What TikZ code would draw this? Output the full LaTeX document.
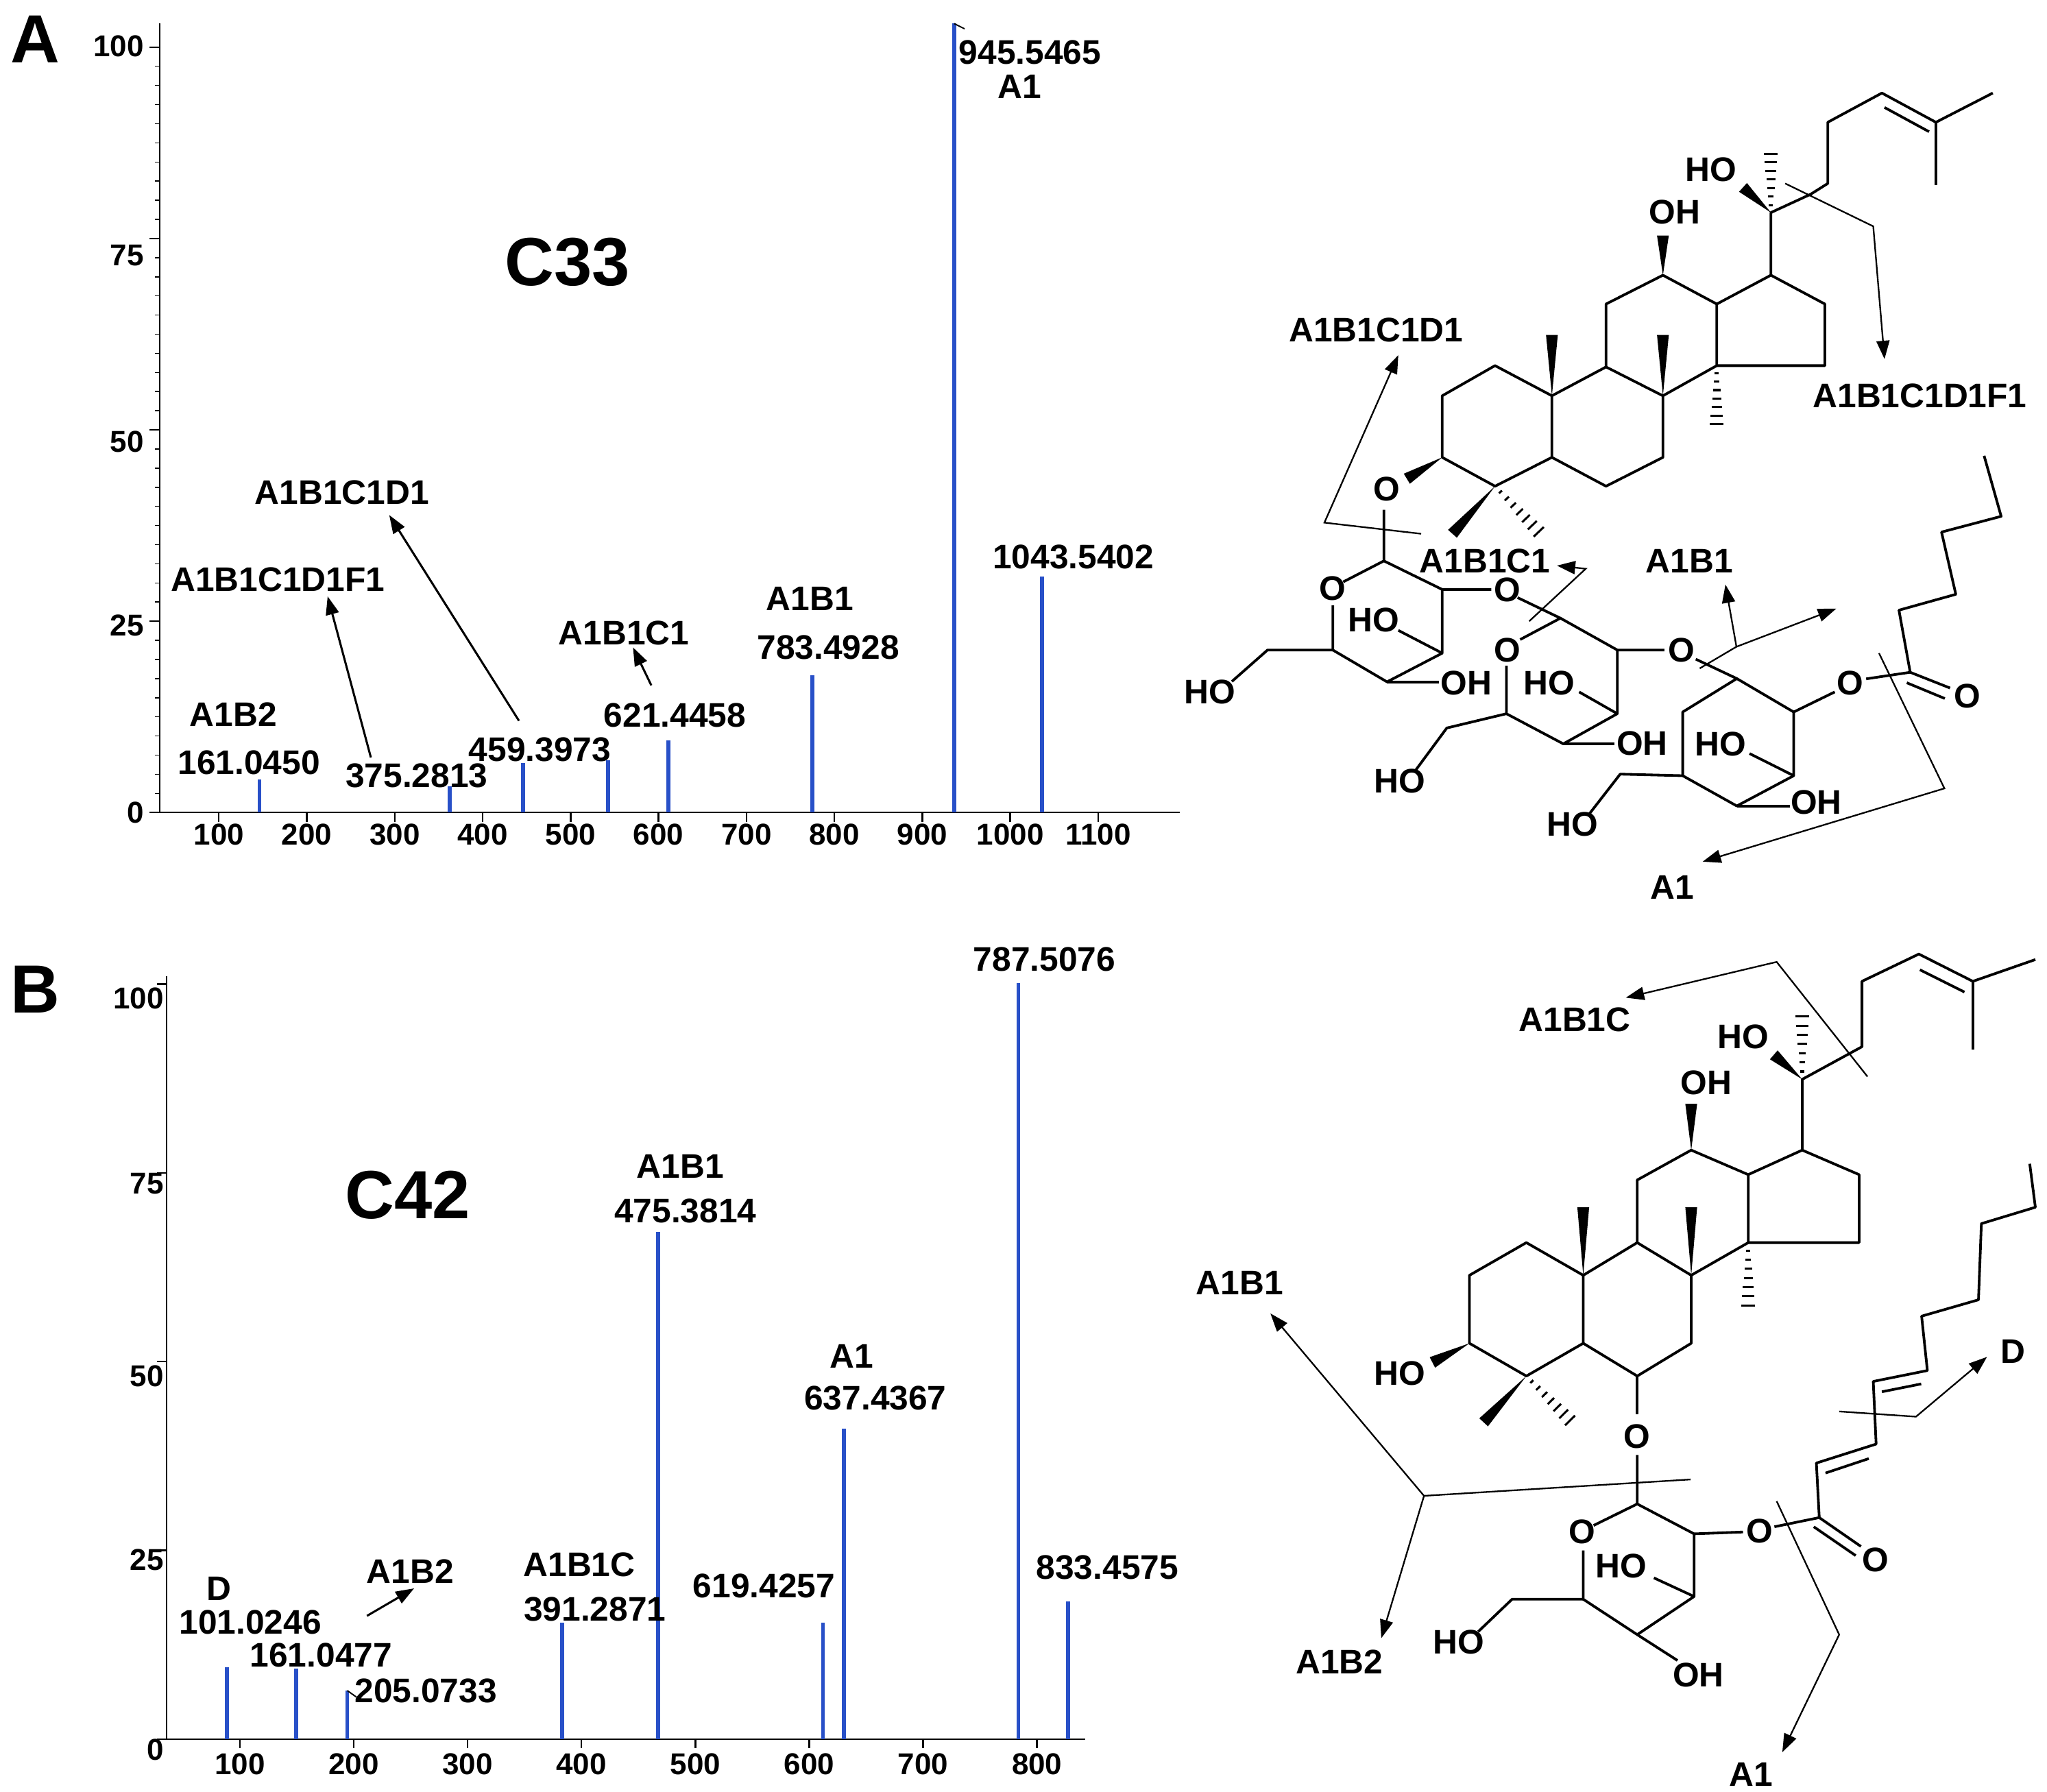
\documentclass[tikz,border=0pt]{standalone}
\usepackage{fontspec}
\setmainfont{Liberation Sans}
\usetikzlibrary{calc,arrows.meta}
\definecolor{pk}{RGB}{40,80,200}
\newcommand\wdg[2]{\fill #1 -- ($#2!4.5pt!90:#1$) -- ($#2!4.5pt!-90:#1$) -- cycle;}
\newcommand\hsh[2]{\foreach \t in {0.12,0.26,...,1.0}{\pgfmathsetmacro\hl{1+4.5*\t}\coordinate (hp) at ($#1!\t!#2$);\draw[line width=1.6pt] ($(hp)!\hl pt!90:#1$) -- ($(hp)!\hl pt!-90:#1$);}}
\begin{document}
\begin{tikzpicture}[x=1pt,y=-1pt,
  lbl/.style={font=\fontsize{26}{28}\selectfont\bfseries,inner sep=0pt},
  atom/.style={font=\fontsize{26}{28}\selectfont\bfseries,inner sep=0pt},
  tck/.style={font=\fontsize{23}{25}\selectfont\bfseries,inner sep=0pt},
  big/.style={font=\fontsize{52}{54}\selectfont\bfseries,inner sep=0pt},
  panel/.style={font=\fontsize{52}{54}\selectfont\bfseries,inner sep=0pt},
  peak/.style={draw=pk,line width=3pt},
  axis/.style={line width=1.3pt},
  bond/.style={line width=2pt,line join=round},
  frag/.style={line width=1.2pt},
  farr/.style={line width=1.2pt,-{Triangle[length=14pt,width=10pt]}},
  parr/.style={line width=1.6pt,-{Triangle[length=14pt,width=10pt]}}]
\useasboundingbox (0,0) rectangle (1562,1367);
% ================= Panel A spectrum =================
\node[panel] (pA) at (27,30) {A};
\draw[axis] (122,18) -- (122,620) -- (900,620);
\foreach \v/\yy in {100/35,75/195,50/337,25/477,0/620}{\node[tck,anchor=east] at (110,\yy) {\v};}
\foreach \i in {0,...,40}{\draw[line width=0.8pt] (122,{620-\i*14.6}) -- (118,{620-\i*14.6});}
\foreach \i in {0,...,4}{\draw[axis] (122,{620-\i*146}) -- (114,{620-\i*146});}
\foreach \m [count=\k from 0] in {100,200,...,1100}{\node[tck] at ({167+\k*67.1},637) {\m}; \draw[axis] ({167+\k*67.1},620) -- ({167+\k*67.1},627);}
\foreach \px/\py in {198/595,343/600,399/582,464/580,510/565,620/515,728/18,795/440}{\draw[peak] (\px,620) -- (\px,\py);}
\draw[line width=1pt] (728,18) -- (736,22);
\node[big] (c33) at (433,200) {C33};
\node[lbl] (t1) at (786,40) {945.5465};
\node[lbl] (t2) at (778,66) {A1};
\node[lbl] (t3) at (819,425) {1043.5402};
\node[lbl] (t4) at (618,457) {A1B1};
\node[lbl] (t5) at (632,494) {783.4928};
\node[lbl] (t6) at (476,483) {A1B1C1};
\node[lbl] (t7) at (515,546) {621.4458};
\node[lbl] (t8) at (412,572) {459.3973};
\node[lbl] (t9) at (318,592) {375.2813};
\node[lbl] (t10) at (178,545) {A1B2};
\node[lbl] (t11) at (190,582) {161.0450};
\node[lbl] (t12) at (212,442) {A1B1C1D1F1};
\node[lbl] (t13) at (261,376) {A1B1C1D1};
\draw[parr] (497,523) -- (483,494);
\draw[parr] (283,578) -- (250,455);
\draw[parr] (396,550) -- (297,393);
% ================= Panel B spectrum =================
\node[panel] (pB) at (27,755) {B};
\draw[axis] (127,745) -- (127,1327) -- (828,1327);
\foreach \v/\yy in {100/762,75/903,50/1050,25/1190,0/1335}{\node[tck,anchor=east] at (125,\yy) {\v};}
\foreach \i in {0,...,4}{\draw[axis] (127,{1327-\i*144}) -- (120,{1327-\i*144});}
\foreach \m [count=\k from 0] in {100,200,...,800}{\node[tck] at ({183+\k*86.9},1346) {\m}; \draw[axis] ({183+\k*86.9},1327) -- ({183+\k*86.9},1334);}
\foreach \px/\py in {173/1272,226/1273,265/1290,429/1238,502/940,628/1238,644/1090,777/750,815/1222}{\draw[peak] (\px,1327) -- (\px,\py);}
\draw[line width=1pt] (265,1290) -- (272,1295);
\node[big] (c42) at (311,912) {C42};
\node[lbl] (u1) at (797,732) {787.5076};
\node[lbl] (u2) at (519,890) {A1B1};
\node[lbl] (u3) at (523,924) {475.3814};
\node[lbl] (u4) at (650,1035) {A1};
\node[lbl] (u5) at (668,1067) {637.4367};
\node[lbl] (u6) at (442,1194) {A1B1C};
\node[lbl] (u7) at (454,1228) {391.2871};
\node[lbl] (u8) at (583,1210) {619.4257};
\node[lbl] (u9) at (845,1196) {833.4575};
\node[lbl] (u10) at (167,1212) {D};
\node[lbl] (u11) at (191,1238) {101.0246};
\node[lbl] (u12) at (313,1199) {A1B2};
\node[lbl] (u13) at (245,1263) {161.0477};
\node[lbl] (u14) at (325,1290) {205.0733};
\draw[parr] (280,1233) -- (316,1212);
% ================= Structure A =================
\begin{scope}[bond]
\draw (1140.8,279) -- (1100.5,302) -- (1100.5,349) -- (1140.8,371) -- (1184.2,349) -- (1184.2,302) -- cycle;
\draw (1184.2,302) -- (1225.5,280) -- (1268.9,302) -- (1268.9,349) -- (1225.5,371) -- (1184.2,349);
\draw (1225.5,280) -- (1225.5,232) -- (1268.9,210) -- (1310,232) -- (1310,279) -- (1268.9,302);
\draw (1310,232) -- (1351.3,210) -- (1392.5,232) -- (1392.5,279) -- (1310,279);
\draw (1351.3,210) -- (1351.3,162.2) -- (1381.7,148.2) -- (1394.7,140) -- (1394.7,93.3) -- (1436,71) -- (1477.2,93.3) -- (1520.6,71);
\draw (1438,82) -- (1472,100.5);
\draw (1477.2,93.3) -- (1477.2,141.1);
\end{scope}
\wdg{(1184.2,302)}{(1184.2,255.6)}
\wdg{(1268.9,302)}{(1268.9,255.6)}
\hsh{(1310,279)}{(1310,325.6)}
\wdg{(1268.9,210)}{(1268.9,179.7)}
\node[atom] (aOH1) at (1278,162) {OH};
\wdg{(1351.3,162.2)}{(1330,143)}
\node[atom] (aHO1) at (1305.7,129.5) {HO};
\hsh{(1351.3,162.2)}{(1351.3,115.5)}
\wdg{(1100.5,349)}{(1073.5,365.3)}
\node[atom] (aO3) at (1058,373) {O};
\wdg{(1140.8,371)}{(1108.3,407.3)}
\hsh{(1140.8,371)}{(1175.5,407.3)}
% sugar 1
\begin{scope}[bond]
\draw (1056,389) -- (1056,428) -- (1025,444);
\draw (1056,428) -- (1100.5,449.8) -- (1138,449.8);
\draw (1100.5,449.8) -- (1100.5,498.4) -- (1058.4,520.3) -- (1017,496) -- (1017,462);
\draw (1058.4,520.3) -- (1098,520.3);
\draw (1100.5,498.4) -- (1067,481);
\draw (1017,496) -- (967.2,496) -- (940,520);
\end{scope}
\node[atom] (aOr1) at (1017,449) {O};
\node[atom] (aOg1) at (1150,450) {O};
\node[atom] (aHO2) at (1048,473) {HO};
\node[atom] (aOH2) at (1119,521) {OH};
\node[atom] (aHO3) at (923,528) {HO};
% sugar 2
\begin{scope}[bond]
\draw (1158,456) -- (1190.7,471.7) -- (1234.1,496) -- (1270,496);
\draw (1190.7,471.7) -- (1160,488);
\draw (1234.1,496) -- (1234.1,544.6) -- (1192.9,567.6) -- (1149.5,544.6) -- (1149.5,508);
\draw (1234.1,544.6) -- (1205,528);
\draw (1192.9,567.6) -- (1232,567.6);
\draw (1149.5,544.6) -- (1104,555.5) -- (1080,588);
\end{scope}
\node[atom] (aOr2) at (1150,496) {O};
\node[atom] (aOg2) at (1283,496) {O};
\node[atom] (aHO4) at (1182,521) {HO};
\node[atom] (aOH4) at (1253,567) {OH};
\node[atom] (aHO5) at (1068,596) {HO};
% sugar 3
\begin{scope}[bond]
\draw (1294,503) -- (1325.3,517.8) -- (1368.7,543.3) -- (1400,528);
\draw (1325.3,517.8) -- (1284,543.3) -- (1284,591.9) -- (1325.3,615) -- (1368.7,591.9) -- (1368.7,543.3);
\draw (1368.7,591.9) -- (1335,575);
\draw (1325.3,615) -- (1366,615);
\draw (1284,591.9) -- (1236.3,590.7) -- (1212,622);
\draw (1424,518) -- (1457.6,513) -- (1449,465.6) -- (1492.4,453.5) -- (1481.5,406) -- (1527,394) -- (1514,347.8);
\draw (1457.6,513) -- (1488,525);
\draw (1455,521) -- (1484,533);
\end{scope}
\node[atom] (aOe) at (1412,521) {O};
\node[atom] (aOk) at (1501,531) {O};
\node[atom] (aHO6) at (1313,568) {HO};
\node[atom] (aOH6) at (1386,612) {OH};
\node[atom] (aHO7) at (1200,629) {HO};
% fragment marks A
\node[lbl] (aF1) at (1465,302) {A1B1C1D1F1};
\draw[farr] (1362.2,140) -- (1429.4,172.7) -- (1438,274);
\node[lbl] (aF2) at (1050,252) {A1B1C1D1};
\draw[farr] (1084.4,407.3) -- (1010.6,398.8) -- (1067,271);
\node[lbl] (aF3) at (1133,428) {A1B1C1};
\draw[farr] (1166.9,474) -- (1210,434) -- (1188,431.6);
\node[lbl] (aF4) at (1289,428) {A1B1};
\draw[farr] (1297,510) -- (1325,493.5) -- (1316.6,446);
\draw[farr] (1325,493.5) -- (1401.2,464.4);
\node[lbl] (aF5) at (1276,677) {A1};
\draw[farr] (1433.8,498.4) -- (1483.7,601.6) -- (1299.2,657.5);
% ================= Structure B =================
\begin{scope}[bond]
\draw (1164.7,948.2) -- (1121.3,973.1) -- (1121.3,1025) -- (1164.7,1050) -- (1208.1,1025) -- (1208.1,973.1) -- cycle;
\draw (1208.1,973.1) -- (1249.3,948.2) -- (1290.5,973.1) -- (1290.5,1025) -- (1249.3,1050) -- (1208.1,1025);
\draw (1249.3,948.2) -- (1249.3,900.4) -- (1290.5,877.6) -- (1334,896.3) -- (1334,948.2) -- (1290.5,973.1);
\draw (1334,896.3) -- (1375.2,877.6) -- (1418.6,896.3) -- (1418.6,948.2) -- (1334,948.2);
\draw (1375.2,877.6) -- (1375.2,823.6) -- (1420.8,798.7) -- (1420.8,748.8) -- (1464.2,728) -- (1505.4,748.8) -- (1553.1,732.2);
\draw (1465,740) -- (1499,757);
\draw (1505.4,748.8) -- (1505.4,800.7);
\draw (1249.3,1050) -- (1249.3,1079);
\draw (1249.3,1110.2) -- (1249.3,1147.6) -- (1216,1164);
\draw (1249.3,1147.6) -- (1292.7,1170.4) -- (1330,1169);
\draw (1292.7,1170.4) -- (1292.7,1218.2) -- (1249.3,1247.3) -- (1208.1,1220.3) -- (1208.1,1183);
\draw (1292.7,1218.2) -- (1262,1204);
\draw (1249.3,1247.3) -- (1280,1267);
\draw (1208.1,1220.3) -- (1153.8,1220.3) -- (1128,1245);
\draw (1354,1165) -- (1388.2,1158) -- (1386,1116.4) -- (1431.6,1101.9) -- (1429.4,1054.1) -- (1470.7,1045.8) -- (1466.3,1004.3) -- (1509.7,991.8) -- (1511.9,933.7) -- (1553.1,921.2) -- (1548.8,888);
\draw (1393,1124) -- (1426,1113);
\draw (1436,1062) -- (1466,1056);
\draw (1388.2,1158) -- (1420,1180);
\draw (1384,1165) -- (1416,1187);
\end{scope}
\wdg{(1208.1,973.1)}{(1208.1,921.2)}
\wdg{(1290.5,973.1)}{(1290.5,921.2)}
\hsh{(1334,948.2)}{(1334,998)}
\wdg{(1290.5,877.6)}{(1290.5,842.3)}
\node[atom] (bOH1) at (1302,826) {OH};
\wdg{(1375.2,823.6)}{(1353.5,804.9)}
\node[atom] (bHO1) at (1330,791) {HO};
\hsh{(1375.2,823.6)}{(1375.2,773.7)}
\wdg{(1121.3,1025)}{(1093,1039.6)}
\node[atom] (bHO2) at (1068,1048) {HO};
\wdg{(1164.7,1050)}{(1132.1,1085.3)}
\hsh{(1164.7,1050)}{(1199.4,1085.3)}
\node[atom] (bO6) at (1249.3,1096) {O};
\node[atom] (bOr) at (1207,1169) {O};
\node[atom] (bOe) at (1342.6,1168.4) {O};
\node[atom] (bOk) at (1431,1190) {O};
\node[atom] (bHO3) at (1237,1195) {HO};
\node[atom] (bOH3) at (1296,1278) {OH};
\node[atom] (bHO4) at (1113,1253) {HO};
% fragment marks B
\node[lbl] (bF1) at (1201.6,778) {A1B1C};
\draw[farr] (1425,821.5) -- (1355.7,734) -- (1240.6,761.3);
\node[lbl] (bF2) at (1536,1031) {D};
\draw[farr] (1403.4,1077) -- (1462,1081) -- (1516.2,1035.4);
\node[lbl] (bF3) at (946,979) {A1B1};
\draw[frag] (1290,1128.9) -- (1086.6,1141.4);
\draw[farr] (1086.6,1141.4) -- (969.4,1002.2);
\draw[farr] (1086.6,1141.4) -- (1054,1250);
\node[lbl] (bF4) at (1022,1268) {A1B2};
\node[lbl] (bF5) at (1336,1354) {A1};
\draw[farr] (1355.7,1145.5) -- (1403.4,1247.3) -- (1360,1337);
\end{tikzpicture}
\end{document}
